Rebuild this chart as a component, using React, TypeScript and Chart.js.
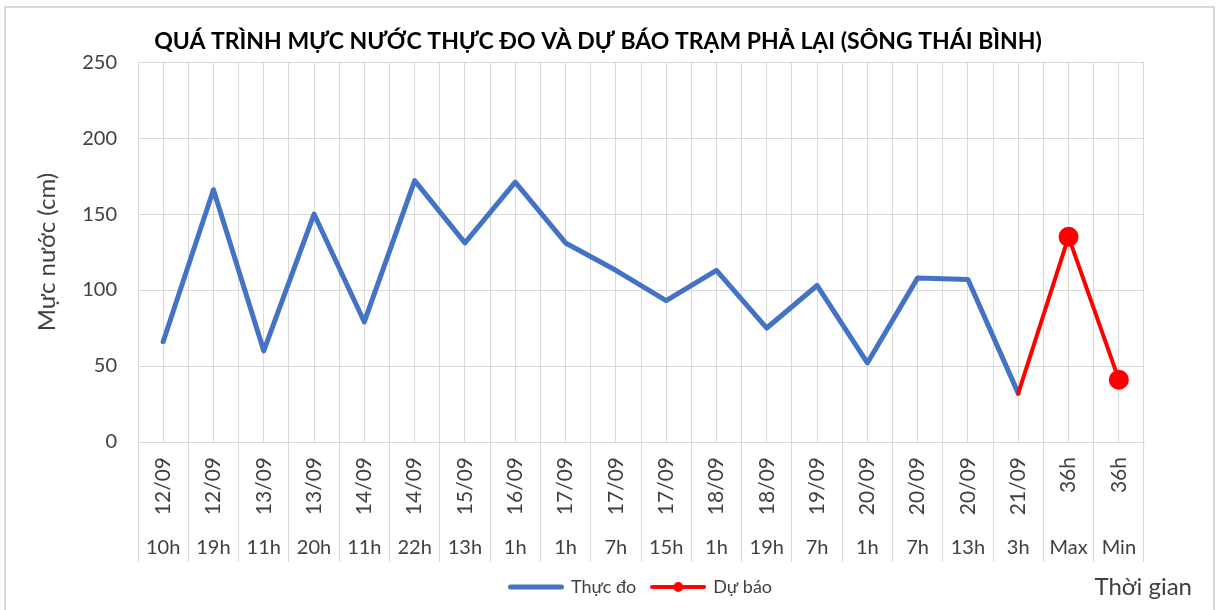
import React, { useEffect, useRef } from "react";
import { Chart, registerables } from "chart.js";

Chart.register(...registerables);

const dateLabels = ["12/09", "12/09", "13/09", "13/09", "14/09", "14/09", "15/09", "16/09", "17/09", "17/09", "17/09", "18/09", "18/09", "19/09", "20/09", "20/09", "20/09", "21/09", "36h", "36h"];
const hourLabels = ["10h", "19h", "11h", "20h", "11h", "22h", "13h", "1h", "1h", "7h", "15h", "1h", "19h", "7h", "1h", "7h", "13h", "3h", "Max", "Min"];
const observed = [66, 166, 60, 150, 79, 172, 131, 171, 131, 113, 93, 113, 75, 103, 52, 108, 107, 32, null, null];
const forecast = [null, null, null, null, null, null, null, null, null, null, null, null, null, null, null, null, null, 32, 135, 41];
const yMin = 0;
const yMax = 250;
const yStep = 50;

const TITLE = "QUÁ TRÌNH MỰC NƯỚC THỰC ĐO VÀ DỰ BÁO TRẠM PHẢ LẠI (SÔNG THÁI BÌNH)";
const Y_TITLE = "Mực nước (cm)";
const X_TITLE = "Thời gian";
const SERIES_OBS = "Thực đo";
const SERIES_FC = "Dự báo";

const FONT = "Lato, 'Noto Sans', sans-serif";
const GRID = "#d9d9d9";
const TXT = "#404040";
const BLUE = "#4472C4";
const RED = "#FF0000";

function makeSample(color: string, lineW: number, dotR: number) {
  const c = document.createElement("canvas");
  c.width = 56;
  c.height = 12;
  const g = c.getContext("2d")!;
  g.strokeStyle = color;
  g.lineWidth = lineW;
  g.lineCap = "round";
  g.beginPath();
  g.moveTo(lineW / 2, 6);
  g.lineTo(56 - lineW / 2, 6);
  g.stroke();
  if (dotR > 0) {
    g.fillStyle = color;
    g.beginPath();
    g.arc(28, 6, dotR, 0, Math.PI * 2);
    g.fill();
  }
  return c;
}

export default function App() {
  const ref = useRef<HTMLCanvasElement | null>(null);

  useEffect(() => {
    if (!ref.current) return;
    const samples = [makeSample(BLUE, 5, 0), makeSample(RED, 4, 5)];
    const fcStart = forecast.findIndex((v) => v !== null);

    const xTitlePlugin = {
      id: "xTitleText",
      afterDraw(chart: any) {
        const ctx = chart.ctx;
        const xh = chart.scales.xh;
        ctx.save();
        ctx.font = `24px ${FONT}`;
        ctx.fillStyle = TXT;
        ctx.textAlign = "right";
        ctx.textBaseline = "middle";
        ctx.fillText(X_TITLE, chart.chartArea.right + 48, xh.bottom + 25);
        ctx.restore();
      },
    };

    const chart = new Chart(ref.current, {
      type: "line",
      data: {
        labels: dateLabels,
        datasets: [
          {
            label: SERIES_OBS,
            data: observed,
            borderColor: BLUE,
            backgroundColor: BLUE,
            borderWidth: 5,
            pointRadius: 0,
            tension: 0,
            borderJoinStyle: "round",
            borderCapStyle: "round",
            spanGaps: false,
            order: 1,
          },
          {
            label: SERIES_FC,
            data: forecast,
            borderColor: RED,
            backgroundColor: RED,
            borderWidth: 4,
            pointRadius: (c: any) => (c.dataIndex <= fcStart ? 0 : 10),
            pointBorderWidth: 0,
            pointBackgroundColor: RED,
            tension: 0,
            borderJoinStyle: "round",
            borderCapStyle: "round",
            order: 0,
          },
        ],
      },
      options: {
        animation: false,
        responsive: true,
        maintainAspectRatio: false,
        layout: { padding: { left: 8, right: 29, top: 8, bottom: 4 } },
        plugins: {
          title: {
            display: true,
            text: TITLE,
            color: "#000",
            font: { family: FONT, size: 23, weight: "bold" },
            padding: { top: 20, bottom: 6.5 },
          },
          legend: {
            display: true,
            position: "bottom",
            fullSize: false,
            labels: {
              usePointStyle: true,
              pointStyleWidth: 52,
              padding: 16,
              color: TXT,
              font: { family: FONT, size: 18 },
              sort: (a: any, b: any) => a.datasetIndex - b.datasetIndex,
              generateLabels: (ch: any) => {
                const items = Chart.defaults.plugins.legend.labels.generateLabels(ch);
                return items.map((it: any) => ({ ...it, pointStyle: samples[it.datasetIndex] }));
              },
            },
          },
          tooltip: { enabled: false },
        },
        scales: {
          xc: {
            type: "category",
            labels: dateLabels,
            position: "bottom",
            offset: true,
            weight: -1,
            grid: { offset: false, color: GRID, drawTicks: false },
            border: { display: false },
            ticks: { display: false },
            afterFit: (s: any) => {
              s.height = 0;
            },
          },
          x: {
            type: "category",
            labels: dateLabels,
            position: "bottom",
            offset: true,
            weight: 0,
            grid: { offset: true, color: GRID, tickColor: GRID, drawTicks: true, tickLength: 88 },
            border: { display: true, color: GRID },
            ticks: {
              autoSkip: false,
              minRotation: 90,
              maxRotation: 90,
              padding: -73,
              color: TXT,
              font: { family: FONT, size: 21 },
            },
            afterFit: (s: any) => {
              s.height = 88;
            },
          },
          xh: {
            type: "category",
            labels: hourLabels,
            position: "bottom",
            offset: true,
            weight: 1,
            grid: { offset: true, drawOnChartArea: false, color: GRID, tickColor: GRID, drawTicks: true, tickLength: 32 },
            border: { display: false },
            ticks: {
              autoSkip: false,
              minRotation: 0,
              maxRotation: 0,
              padding: -26,
              color: TXT,
              font: { family: FONT, size: 20 },
            },
            afterFit: (s: any) => {
              s.height = 32;
            },
          },
          y: {
            type: "linear",
            position: "left",
            min: yMin,
            max: yMax,
            grid: { color: GRID, drawTicks: false },
            border: { display: false },
            ticks: {
              stepSize: yStep,
              padding: 21,
              color: TXT,
              font: { family: FONT, size: 20 },
            },
            title: {
              display: true,
              text: Y_TITLE,
              color: TXT,
              font: { family: FONT, size: 24 },
              padding: { top: 24.6, bottom: 0 },
            },
            afterFit: (s: any) => {
              s.width = 130;
            },
          },
          yr: {
            type: "linear",
            position: "right",
            display: true,
            grid: { display: false, drawTicks: false },
            border: { display: false },
            ticks: { display: false },
            afterFit: (s: any) => {
              s.width = 44;
            },
          },
        },
      },
      plugins: [xTitlePlugin],
    });
    return () => chart.destroy();
  }, []);

  return (
    <div style={{ position: "fixed", left: 0, top: 0, width: 1217, height: 610, overflow: "hidden", background: "#fff" }}>
      <div
        style={{
          position: "absolute",
          left: 4,
          top: 6,
          width: 1211,
          height: 604,
          boxSizing: "border-box",
          border: "2px solid #d9d9d9",
          borderBottom: "none",
        }}
      />
      <div style={{ position: "absolute", left: 0, top: 0, width: 1217, height: 610 }}>
        <canvas ref={ref} />
      </div>
    </div>
  );
}
